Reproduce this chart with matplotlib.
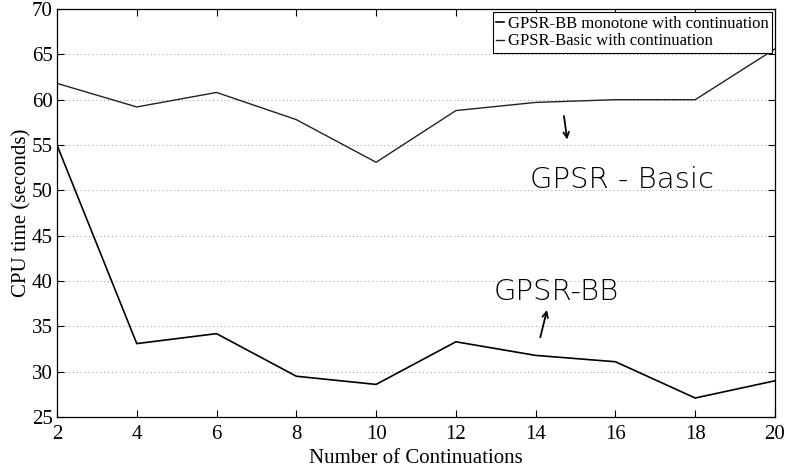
import numpy as np
import matplotlib
matplotlib.use("Agg")
import matplotlib.pyplot as plt

# number of continuations
continuations = [2, 4, 6, 8, 10, 12, 14, 16, 18, 20]
# CPU time (seconds)
bb_monotone = [55.0, 33.1, 34.2, 29.5, 28.6, 33.3, 31.8, 31.1, 27.1, 29.0]
basic = [61.8, 59.2, 60.8, 57.8, 53.1, 58.8, 59.7, 60.0, 60.0, 65.6]
legend_labels = ["GPSR-BB monotone with continuation", "GPSR-Basic with continuation"]

plt.rcParams['font.family'] = ['Liberation Serif', 'DejaVu Serif']

fig = plt.figure(figsize=(7.86, 4.75), dpi=100)
ax = fig.add_axes([0.0725, 0.122, 0.9135, 0.859])

ax.plot(continuations, bb_monotone, color="black", lw=1.2, label=legend_labels[0])
ax.plot(continuations, basic, color="#222222", lw=1.0, label=legend_labels[1])

ax.set_xlim(2, 20)
ax.set_ylim(25, 70)
ax.set_xticks(continuations)
ax.set_yticks(np.arange(25, 71, 5))
ax.yaxis.grid(True, linestyle=(0, (1, 3)), color="#999999", lw=0.7)
ax.tick_params(direction="in", top=True, right=True, labelsize=15, length=5, pad=3)
ax.tick_params(axis="x", pad=6)
for s in ax.spines.values():
    s.set_linewidth(0.9)

ax.set_xlabel("Number of Continuations", fontsize=15, labelpad=3)
ax.set_ylabel("CPU time (seconds)", fontsize=15, labelpad=0)

leg = ax.legend(loc="upper right", fontsize=12, handlelength=0.5, handletextpad=0.2,
                borderpad=0.2, labelspacing=0.1, fancybox=False, framealpha=1,
                edgecolor="black", borderaxespad=0.2)
leg.get_frame().set_linewidth(0.8)

# handwritten notes
ax.text(13.85, 50.3, "GPSR - Basic", fontsize=21, family="DejaVu Sans", fontweight="light")
ax.annotate("", xy=(14.8, 55.3), xytext=(14.7, 58.5),
            arrowprops=dict(arrowstyle="->", lw=1.3, color="black"))
ax.text(12.95, 37.9, "GPSR-BB", fontsize=21, family="DejaVu Sans", fontweight="light")
ax.annotate("", xy=(14.3, 37.1), xytext=(14.1, 33.5),
            arrowprops=dict(arrowstyle="->", lw=1.3, color="black"))

fig.savefig("out.png", dpi=100)
